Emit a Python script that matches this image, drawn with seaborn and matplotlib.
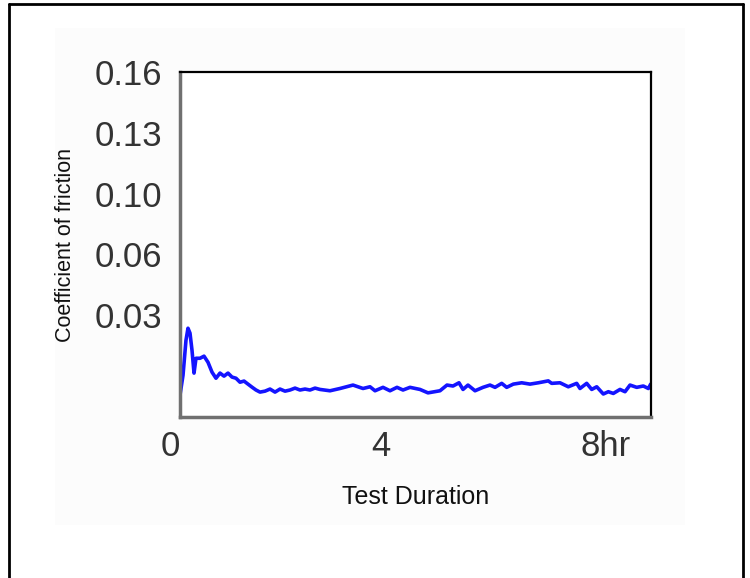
import matplotlib
matplotlib.use("Agg")
import matplotlib.pyplot as plt
import matplotlib.transforms as mtransforms
from matplotlib.lines import Line2D
from matplotlib.patches import Rectangle
import seaborn as sns
import pandas as pd

# test duration (hours) and coefficient of friction
hours = [0.000, 0.060, 0.119, 0.159, 0.199, 0.239, 0.279, 0.318, 0.398, 0.478,
         0.557, 0.637, 0.716, 0.796, 0.876, 0.955, 1.035, 1.114, 1.194, 1.274,
         1.353, 1.433, 1.512, 1.592, 1.692, 1.791, 1.891, 1.990, 2.090, 2.189,
         2.289, 2.388, 2.488, 2.587, 2.687, 2.786, 2.985, 3.184, 3.443, 3.642,
         3.781, 3.881, 4.040, 4.179, 4.318, 4.438, 4.577, 4.776, 4.935, 5.174,
         5.313, 5.433, 5.552, 5.632, 5.731, 5.871, 6.030, 6.169, 6.269, 6.402,
         6.501, 6.633, 6.800, 6.965, 7.130, 7.329, 7.397, 7.562, 7.727, 7.894,
         7.960, 8.093, 8.193, 8.293, 8.424, 8.524, 8.623, 8.756, 8.856, 8.955,
         9.089, 9.220, 9.320, 9.367]
friction = [-0.0100, 0.0005, 0.0189, 0.0252, 0.0226, 0.0136, 0.0016, 0.0094, 0.0094, 0.0105,
            0.0073, 0.0021, -0.0011, 0.0016, 0.0000, 0.0016, -0.0005, -0.0011, -0.0032, -0.0026,
            -0.0042, -0.0058, -0.0073, -0.0084, -0.0079, -0.0068, -0.0084, -0.0068, -0.0079, -0.0073,
            -0.0063, -0.0073, -0.0068, -0.0073, -0.0063, -0.0070, -0.0077, -0.0065, -0.0047, -0.0065,
            -0.0056, -0.0077, -0.0059, -0.0077, -0.0059, -0.0073, -0.0059, -0.0070, -0.0088, -0.0077,
            -0.0047, -0.0052, -0.0035, -0.0070, -0.0047, -0.0077, -0.0059, -0.0047, -0.0059, -0.0038,
            -0.0059, -0.0042, -0.0035, -0.0042, -0.0035, -0.0025, -0.0038, -0.0035, -0.0056, -0.0038,
            -0.0065, -0.0038, -0.0070, -0.0056, -0.0094, -0.0082, -0.0091, -0.0070, -0.0082, -0.0047,
            -0.0059, -0.0052, -0.0065, -0.0042]

x_ticks = [0, 4, 8]
x_tick_labels = ["0", "4", "8hr"]
y_ticks = [0.032, 0.064, 0.096, 0.128, 0.16]
y_tick_labels = ["0.03", "0.06", "0.10", "0.13", "0.16"]

df = pd.DataFrame({"hours": hours, "friction": friction})

sns.set_style("white")
plt.rcParams['font.family'] = ['Liberation Sans', 'DejaVu Sans']

fig = plt.figure(figsize=(7.5, 5.78), dpi=100)

# very faint backdrop behind the chart, and the outer frame
fig.add_artist(Rectangle((55 / 750, 1 - 525 / 578), 630 / 750, 497 / 578,
                         transform=fig.transFigure, facecolor="#fcfcfc",
                         edgecolor="none", zorder=0))
frame_kw = dict(transform=fig.transFigure, color="black", linewidth=2)
fig.add_artist(Line2D([9 / 750, 743 / 750], [1 - 4 / 578, 1 - 4 / 578], **frame_kw))
fig.add_artist(Line2D([9 / 750, 9 / 750], [0, 1 - 4 / 578], **frame_kw))
fig.add_artist(Line2D([743 / 750, 743 / 750], [0, 1 - 4 / 578], **frame_kw))

ax = fig.add_axes([180 / 750, 1 - 417 / 578, 471 / 750, 345 / 578])
ax.set_facecolor("white")

sns.lineplot(data=df, x="hours", y="friction", ax=ax, color="#1414ff",
             linewidth=2.6, estimator=None, sort=False)

ax.set_xticks(x_ticks)
ax.set_xticklabels(x_tick_labels)
ax.set_yticks(y_ticks)
ax.set_yticklabels(y_tick_labels)
ax.set_xlim(0, 9.373)
ax.set_ylim(-0.0215, 0.16)

ax.tick_params(axis="both", length=0, labelsize=25, labelcolor="#333333")
ax.tick_params(axis="x", pad=9)
ax.tick_params(axis="y", pad=13)

# "0" sits a little left of the axis corner; "8hr" keeps the 8 near its tick
xlabs = ax.get_xticklabels()
xlabs[0].set_transform(xlabs[0].get_transform() +
                       mtransforms.ScaledTranslation(-10 / 100, 0, fig.dpi_scale_trans))
xlabs[2].set_horizontalalignment("left")
xlabs[2].set_transform(xlabs[2].get_transform() +
                       mtransforms.ScaledTranslation(-2 / 100, 0, fig.dpi_scale_trans))

ax.set_xlabel("Test Duration", fontsize=18, color="#111111", labelpad=16)
ax.set_ylabel("Coefficient of friction", fontsize=15.5, color="#111111", labelpad=13)

for side in ["left", "bottom"]:
    ax.spines[side].set_color("#707070")
    ax.spines[side].set_linewidth(2.5)
for side in ["top", "right"]:
    ax.spines[side].set_color("black")
    ax.spines[side].set_linewidth(1.6)
    ax.spines[side].set_visible(True)

fig.savefig("out.png", dpi=100)
